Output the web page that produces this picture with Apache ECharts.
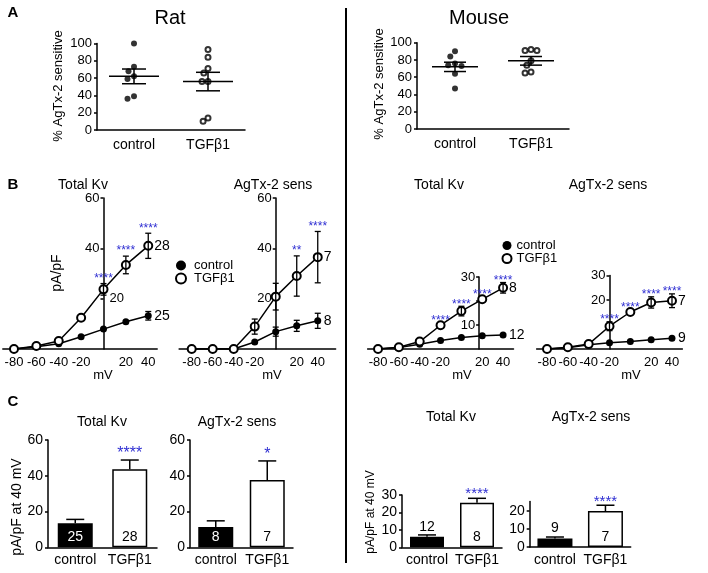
<!DOCTYPE html>
<html><head><meta charset="utf-8">
<script src="https://cdn.jsdelivr.net/npm/echarts@6.0.0/dist/echarts.min.js"></script>
<style>html,body{margin:0;padding:0;background:#fff}#c{width:708px;height:573px}</style>
</head><body><div id="c"></div>
<script>
// ---------- Panel A: % AgTx-2 sensitive ----------
const groupCats = ['control', 'TGFβ1'];
const ratCtrlPct = [100, 73, 68, 62, 59, 39, 36];
const ratTgfPct = [93, 84, 71, 66, 56, 56, 14, 10];
const ratMeanPct = [62, 56];
const ratSemPct = [8.5, 10.7];
const mouseCtrlPct = [90, 84, 76, 74, 73, 64, 47];
const mouseTgfPct = [92, 91, 91, 79, 74, 66, 65];
const mouseMeanPct = [72, 79];
const mouseSemPct = [5.4, 5];
const pctTicks = [0, 20, 40, 60, 80, 100];

// ---------- Panel B: I-V curves ----------
const mV = [-80, -60, -40, -20, 0, 20, 40];
const mVTickLabels = [-80, -60, -40, -20, 20, 40];
const ratTotalCtrl = [0, 0.9, 2.1, 4.9, 7.9, 10.8, 13.2];
const ratTotalCtrlErr = [0.3, 0.3, 0.4, 0.6, 1.0, 1.3, 1.7];
const ratTotalTgf = [0, 1.2, 3.2, 12.4, 23.7, 33.4, 41.0];
const ratTotalTgfErr = [0.3, 0.4, 0.6, 1.2, 2.3, 3.5, 5.0];
const ratTotalStars = ['', '', '', '', '****', '****', '****'];
const ratTotalN = ['25', '28'];
const ratTotalYLabels = [40, 60];
const ratTotalYLabelsRight = [20];
const ratTotalYTicks = [20, 40, 60];

const ratAgCtrl = [0, 0, 0, 2.8, 6.9, 9.2, 11.2];
const ratAgCtrlErr = [0.3, 0.3, 0.3, 0.6, 1.8, 2.2, 3.0];
const ratAgTgf = [0, 0, 0, 8.9, 20.8, 29.0, 36.5];
const ratAgTgfErr = [0.3, 0.3, 0.3, 3.0, 5.3, 8.0, 10.2];
const ratAgStars = ['', '', '', '', '', '**', '****'];
const ratAgN = ['8', '7'];
const ratAgYLabels = [20, 40, 60];
const ratAgYTicks = [20, 40, 60];

const mouseTotalCtrl = [0, 0.6, 2.0, 3.5, 4.8, 5.5, 5.8];
const mouseTotalCtrlErr = [0.2, 0.2, 0.3, 0.4, 0.5, 0.6, 0.6];
const mouseTotalTgf = [0, 0.7, 3.1, 9.9, 15.8, 20.7, 25.5];
const mouseTotalTgfErr = [0.2, 0.3, 0.5, 1.0, 2.0, 1.2, 2.2];
const mouseTotalStars = ['', '', '', '****', '****', '****', '****'];
const mouseTotalN = ['12', '8'];
const mouseTotalYLabels = [10, 30];
const mouseTotalYTicks = [10, 20, 30];

const mouseAgCtrl = [0, 0.5, 1.7, 2.6, 3.1, 3.8, 4.4];
const mouseAgCtrlErr = [0.2, 0.2, 0.3, 0.3, 0.4, 0.4, 0.5];
const mouseAgTgf = [0, 0.7, 2.0, 9.3, 15.1, 19.0, 19.7];
const mouseAgTgfErr = [0.2, 0.3, 0.5, 1.8, 0.8, 2.3, 2.8];
const mouseAgStars = ['', '', '', '****', '****', '****', '****'];
const mouseAgN = ['9', '7'];
const mouseAgYLabels = [20, 30];
const mouseAgYTicks = [10, 20, 30];

// ---------- Panel C: pA/pF at 40 mV ----------
const ratTotalBar = [13.4, 43.6];
const ratTotalBarErr = [2.2, 5.2];
const ratTotalBarStars = ['', '****'];
const ratAgBar = [11.4, 37.6];
const ratAgBarErr = [3.4, 10.7];
const ratAgBarStars = ['', '*'];
const mouseTotalBar = [6.1, 25.6];
const mouseTotalBarErr = [1.0, 2.5];
const mouseTotalBarStars = ['', '****'];
const mouseAgBar = [4.7, 19.8];
const mouseAgBarErr = [0.8, 3.2];
const mouseAgBarStars = ['', '****'];
const ratBarTicks = [0, 20, 40, 60];
const mouseTotalBarTicks = [0, 10, 20, 30];
const mouseAgBarTicks = [0, 10, 20];

// ---------- helpers ----------
const FONT = "'Liberation Sans', Arial, Helvetica, sans-serif";
const STAR = '#2f2fd2';
const BLACK = '#000';
const axLine = {show: true, onZero: false, lineStyle: {color: BLACK, width: 1.5}};

function meanRender(halfMean, halfCap) {
  return function (params, api) {
    const c = api.coord([api.value(0), api.value(1)]);
    const up = api.coord([api.value(0), api.value(1) + api.value(2)]);
    const dn = api.coord([api.value(0), api.value(1) - api.value(2)]);
    const st = {stroke: BLACK, lineWidth: 1.5};
    return {type: 'group', children: [
      {type: 'line', shape: {x1: c[0] - halfMean, y1: c[1], x2: c[0] + halfMean, y2: c[1]}, style: st},
      {type: 'line', shape: {x1: c[0], y1: up[1], x2: c[0], y2: dn[1]}, style: st},
      {type: 'line', shape: {x1: c[0] - halfCap, y1: up[1], x2: c[0] + halfCap, y2: up[1]}, style: st},
      {type: 'line', shape: {x1: c[0] - halfCap, y1: dn[1], x2: c[0] + halfCap, y2: dn[1]}, style: st}
    ]};
  };
}

function errRender(stars, cap, starGap, starSize, minLen) {
  return function (params, api) {
    const i = params.dataIndex;
    const x = api.value(0), y = api.value(1), e = api.value(2);
    const top = api.coord([x, y + e]);
    const bot = api.coord([x, Math.max(0, y - e)]);
    const st = {stroke: BLACK, lineWidth: 1.3};
    const children = [];
    if (top[1] < api.coord([x, y])[1] - minLen) {
      children.push({type: 'line', shape: {x1: top[0], y1: top[1], x2: bot[0], y2: bot[1]}, style: st});
      children.push({type: 'line', shape: {x1: top[0] - cap, y1: top[1], x2: top[0] + cap, y2: top[1]}, style: st});
      children.push({type: 'line', shape: {x1: bot[0] - cap, y1: bot[1], x2: bot[0] + cap, y2: bot[1]}, style: st});
    }
    if (stars && stars[i]) {
      children.push({type: 'text', x: top[0], y: top[1] + starGap,
        style: {text: stars[i], fill: STAR, fontSize: starSize, fontFamily: FONT, align: 'center', verticalAlign: 'bottom'}});
    }
    return {type: 'group', children: children};
  };
}

function barErrRender(stars, cap, starGap, starSize) {
  return function (params, api) {
    const i = params.dataIndex;
    const x = api.value(0), y = api.value(1), e = api.value(2);
    const base = api.coord([x, y]);
    const top = api.coord([x, y + e]);
    const st = {stroke: BLACK, lineWidth: 1.5};
    const children = [
      {type: 'line', shape: {x1: base[0], y1: base[1], x2: top[0], y2: top[1]}, style: st},
      {type: 'line', shape: {x1: top[0] - cap, y1: top[1], x2: top[0] + cap, y2: top[1]}, style: st}
    ];
    if (stars && stars[i]) {
      children.push({type: 'text', x: top[0], y: top[1] + starGap,
        style: {text: stars[i], fill: STAR, fontSize: starSize, fontFamily: FONT, align: 'center', verticalAlign: 'bottom'}});
    }
    return {type: 'group', children: children};
  };
}

const grids = [], xAxes = [], yAxes = [], series = [];

// ---------- Panel A ----------
const aPanels = [
  {grid: {left: 97, top: 43.5, width: 148, height: 86.5}, ctrl: ratCtrlPct, tgf: ratTgfPct, mean: ratMeanPct, sem: ratSemPct, halfMean: 25, halfCap: 12},
  {grid: {left: 417, top: 42.7, width: 152, height: 86.3}, ctrl: mouseCtrlPct, tgf: mouseTgfPct, mean: mouseMeanPct, sem: mouseSemPct, halfMean: 23, halfCap: 11}
];
aPanels.forEach(function (p) {
  const k = grids.length;
  grids.push(Object.assign({outerBoundsMode: 'none'}, p.grid));
  xAxes.push({gridIndex: k, type: 'category', data: groupCats, jitter: 22, jitterOverlap: false, jitterMargin: 1,
    axisLine: axLine, axisTick: {show: false},
    axisLabel: {color: BLACK, fontSize: 14, margin: 8, fontFamily: FONT, interval: 0}, splitLine: {show: false}});
  yAxes.push({gridIndex: k, type: 'value', min: 0, max: 100, interval: 20,
    axisLine: axLine, axisTick: {show: true, length: 3, lineStyle: {color: BLACK, width: 1.5}, customValues: pctTicks},
    axisLabel: {color: BLACK, fontSize: 13, margin: 5, fontFamily: FONT, customValues: pctTicks}, splitLine: {show: false}});
  series.push({type: 'scatter', xAxisIndex: k, yAxisIndex: k, symbol: 'circle', symbolSize: 6,
    itemStyle: {color: BLACK}, data: p.ctrl.map(function (v) { return [0, v]; }), z: 2});
  series.push({type: 'scatter', xAxisIndex: k, yAxisIndex: k, symbol: 'emptyCircle', symbolSize: 5,
    itemStyle: {color: BLACK, borderWidth: 1.2}, data: p.tgf.map(function (v) { return [1, v]; }), z: 2});
  series.push({type: 'custom', xAxisIndex: k, yAxisIndex: k, z: 3, silent: true,
    renderItem: meanRender(p.halfMean, p.halfCap),
    data: p.mean.map(function (m, i) { return [i, m, p.sem[i]]; })});
});

// ---------- Panel B ----------
const bPanels = [
  {grid: {left: 2.8, top: 198, width: 154.4, height: 151}, xMin: -90, xMax: 48, yMax: 60, cross: 0,
   yLabels: ratTotalYLabels, yTicks: ratTotalYTicks, rightLabels: ratTotalYLabelsRight,
   ctrl: ratTotalCtrl, ctrlErr: ratTotalCtrlErr, tgf: ratTotalTgf, tgfErr: ratTotalTgfErr, stars: ratTotalStars, n: ratTotalN, starGap: 1},
  {grid: {left: 179.1, top: 198, width: 156.5, height: 151}, xMin: -92, xMax: 57, yMax: 60, cross: 0,
   yLabels: ratAgYLabels, yTicks: ratAgYTicks,
   ctrl: ratAgCtrl, ctrlErr: ratAgCtrlErr, tgf: ratAgTgf, tgfErr: ratAgTgfErr, stars: ratAgStars, n: ratAgN, starGap: 1},
  {grid: {left: 367.6, top: 277, width: 145.9, height: 72}, xMin: -90, xMax: 50, yMax: 30, cross: 17,
   yLabels: mouseTotalYLabels, yTicks: mouseTotalYTicks,
   ctrl: mouseTotalCtrl, ctrlErr: mouseTotalCtrlErr, tgf: mouseTotalTgf, tgfErr: mouseTotalTgfErr, stars: mouseTotalStars, n: mouseTotalN, starGap: 4},
  {grid: {left: 536.6, top: 275.5, width: 145.8, height: 73.5}, xMin: -90, xMax: 50, yMax: 30, cross: -20,
   yLabels: mouseAgYLabels, yTicks: mouseAgYTicks,
   ctrl: mouseAgCtrl, ctrlErr: mouseAgCtrlErr, tgf: mouseAgTgf, tgfErr: mouseAgTgfErr, stars: mouseAgStars, n: mouseAgN, starGap: 4}
];
const extraY = [];
bPanels.forEach(function (p) {
  const k = grids.length;
  const off = -(p.cross - p.xMin) / (p.xMax - p.xMin) * p.grid.width;
  grids.push(Object.assign({outerBoundsMode: 'none'}, p.grid));
  xAxes.push({gridIndex: k, type: 'value', min: p.xMin, max: p.xMax,
    axisLine: {show: true, onZero: false, lineStyle: {color: BLACK, width: 1.5}}, axisTick: {show: false},
    axisLabel: {color: BLACK, fontSize: 13, margin: 7, fontFamily: FONT, customValues: mVTickLabels}, splitLine: {show: false}});
  yAxes.push({gridIndex: k, type: 'value', min: 0, max: p.yMax, position: 'left', offset: off,
    axisLine: axLine, axisTick: {show: true, length: 3, lineStyle: {color: BLACK, width: 1.5}, customValues: p.yTicks},
    axisLabel: {color: BLACK, fontSize: 13, margin: 4, fontFamily: FONT, customValues: p.yLabels}, splitLine: {show: false}});
  if (p.rightLabels) {
    extraY.push({gridIndex: k, type: 'value', min: 0, max: p.yMax, position: 'left', offset: off,
      axisLine: {show: false, onZero: false}, axisTick: {show: false},
      axisLabel: {inside: true, color: BLACK, fontSize: 13, margin: 6, fontFamily: FONT, customValues: p.rightLabels}, splitLine: {show: false}});
  }
  const endLab = function (txt) {
    return {show: true, formatter: txt, color: BLACK, fontSize: 14, fontFamily: FONT, distance: 6};
  };
  series.push({type: 'line', name: 'control', xAxisIndex: k, yAxisIndex: k, symbol: 'circle', symbolSize: 7,
    lineStyle: {color: BLACK, width: 1.5}, itemStyle: {color: BLACK}, z: 2,
    endLabel: endLab(p.n[0]), data: mV.map(function (x, i) { return [x, p.ctrl[i]]; })});
  series.push({type: 'line', name: 'TGFβ1', xAxisIndex: k, yAxisIndex: k, symbol: 'emptyCircle', symbolSize: 8,
    lineStyle: {color: BLACK, width: 1.5}, itemStyle: {color: BLACK, borderWidth: 1.4}, z: 2,
    endLabel: endLab(p.n[1]), data: mV.map(function (x, i) { return [x, p.tgf[i]]; })});
  series.push({type: 'custom', xAxisIndex: k, yAxisIndex: k, z: 4, silent: true,
    renderItem: errRender(null, 3, p.starGap, 12, 4),
    data: mV.map(function (x, i) { return [x, p.ctrl[i], p.ctrlErr[i]]; })});
  series.push({type: 'custom', xAxisIndex: k, yAxisIndex: k, z: 4, silent: true,
    renderItem: errRender(p.stars, 3, p.starGap, 12, 4),
    data: mV.map(function (x, i) { return [x, p.tgf[i], p.tgfErr[i]]; })});
});

// ---------- Panel C ----------
const cPanels = [
  {grid: {left: 48, top: 440, width: 109, height: 107.3}, yMax: 60, ticks: ratBarTicks, vals: ratTotalBar, errs: ratTotalBarErr, stars: ratTotalBarStars, n: ratTotalN, ctrlLabelTop: false, barW: 35, starSize: 16, starGap: 2, labelSize: 14},
  {grid: {left: 190, top: 440, width: 103, height: 107.3}, yMax: 60, ticks: ratBarTicks, vals: ratAgBar, errs: ratAgBarErr, stars: ratAgBarStars, n: ratAgN, ctrlLabelTop: false, barW: 35, starSize: 16, starGap: 2, labelSize: 14},
  {grid: {left: 402, top: 495, width: 100, height: 52.3}, yMax: 30, ticks: mouseTotalBarTicks, vals: mouseTotalBar, errs: mouseTotalBarErr, stars: mouseTotalBarStars, n: mouseTotalN, ctrlLabelTop: true, barW: 34, starSize: 15, starGap: 3, labelSize: 14},
  {grid: {left: 529.7, top: 501.6, width: 101, height: 45.4}, yMax: 25, ticks: mouseAgBarTicks, vals: mouseAgBar, errs: mouseAgBarErr, stars: mouseAgBarStars, n: mouseAgN, ctrlLabelTop: true, barW: 35, starSize: 15, starGap: 4, labelSize: 14}
];
cPanels.forEach(function (p) {
  const k = grids.length;
  grids.push(Object.assign({outerBoundsMode: 'none'}, p.grid));
  xAxes.push({gridIndex: k, type: 'category', data: groupCats,
    axisLine: axLine, axisTick: {show: false},
    axisLabel: {color: BLACK, fontSize: 14, margin: 6, fontFamily: FONT, interval: 0, hideOverlap: false}, splitLine: {show: false}});
  yAxes.push({gridIndex: k, type: 'value', min: 0, max: p.yMax,
    axisLine: axLine, axisTick: {show: true, length: 3, lineStyle: {color: BLACK, width: 1.5}, customValues: p.ticks},
    axisLabel: {color: BLACK, fontSize: 14, margin: 5, fontFamily: FONT, customValues: p.ticks}, splitLine: {show: false}});
  series.push({type: 'bar', name: 'bars' + k, xAxisIndex: k, yAxisIndex: k, barWidth: p.barW, z: 2,
    data: [
      {value: p.vals[0], itemStyle: {color: BLACK, borderColor: BLACK, borderWidth: 1.5},
       label: p.ctrlLabelTop
         ? {show: true, position: 'top', distance: 3, formatter: p.n[0], color: BLACK, fontSize: p.labelSize, fontFamily: FONT}
         : {show: true, position: 'insideBottom', distance: 3, formatter: p.n[0], color: '#fff', fontSize: p.labelSize, fontFamily: FONT}},
      {value: p.vals[1], itemStyle: {color: '#fff', borderColor: BLACK, borderWidth: 1.5},
       label: {show: true, position: 'insideBottom', distance: 3, formatter: p.n[1], color: BLACK, fontSize: p.labelSize, fontFamily: FONT}}
    ]});
  series.push({type: 'custom', xAxisIndex: k, yAxisIndex: k, z: 1, silent: true,
    renderItem: barErrRender(p.stars, 9, p.starGap, p.starSize),
    data: p.vals.map(function (v, i) { return [i, v, p.errs[i]]; })});
});

extraY.forEach(function (a) { yAxes.push(a); });

// ---------- texts ----------
function T(x, y, s, size, extra) {
  extra = extra || {};
  return {type: 'text', x: x, y: y, rotation: extra.rot || 0, silent: true,
    style: {text: s, fontSize: size, fontFamily: FONT, fontWeight: extra.bold ? 'bold' : 'normal',
      fill: BLACK, align: extra.align || 'center', verticalAlign: 'middle'}};
}
const R = Math.PI / 2;
const graphics = [
  {type: 'line', silent: true, shape: {x1: 346, y1: 8, x2: 346, y2: 563}, style: {stroke: BLACK, lineWidth: 2}},
  T(13, 13, 'A', 15, {bold: true}),
  T(13, 185, 'B', 15, {bold: true}),
  T(13, 402, 'C', 15, {bold: true}),
  T(170, 18, 'Rat', 20),
  T(479, 18, 'Mouse', 20),
  T(58, 86, '% AgTx-2 sensitive', 13, {rot: R}),
  T(379, 84, '% AgTx-2 sensitive', 13, {rot: R}),
  T(83, 185, 'Total Kv', 14),
  T(273, 185, 'AgTx-2 sens', 14),
  T(439, 185, 'Total Kv', 14),
  T(608, 185, 'AgTx-2 sens', 14),
  T(57, 273, 'pA/pF', 14, {rot: R}),
  T(103, 375, 'mV', 13),
  T(272, 375, 'mV', 13),
  T(462, 375, 'mV', 13),
  T(631, 375, 'mV', 13),
  T(102, 422, 'Total Kv', 14),
  T(237, 422, 'AgTx-2 sens', 14),
  T(451, 417, 'Total Kv', 14),
  T(591, 417, 'AgTx-2 sens', 14),
  T(17, 507, 'pA/pF at 40 mV', 14, {rot: R}),
  T(371, 512, 'pA/pF at 40 mV', 12, {rot: R})
];

const legendData = [{name: 'control', icon: 'circle'}, {name: 'TGFβ1', icon: 'emptyCircle'}];
const chart = echarts.init(document.getElementById('c'), null, {renderer: 'canvas', width: 708, height: 573});
chart.setOption({
  animation: false,
  backgroundColor: '#fff',
  textStyle: {fontFamily: FONT},
  grid: grids,
  xAxis: xAxes,
  yAxis: yAxes,
  legend: [
    {left: 175, top: 259, orient: 'vertical', itemGap: 0, itemWidth: 10, itemHeight: 10, padding: 0, selectedMode: false,
     data: legendData, textStyle: {fontSize: 13, color: BLACK, fontFamily: FONT, padding: [0, 0, 0, 3]}},
    {left: 501.5, top: 239, orient: 'vertical', itemGap: 0, itemWidth: 9, itemHeight: 9, padding: 0, selectedMode: false,
     data: legendData, textStyle: {fontSize: 13, color: BLACK, fontFamily: FONT}}
  ],
  series: series,
  graphic: graphics
});
</script>
</body></html>
